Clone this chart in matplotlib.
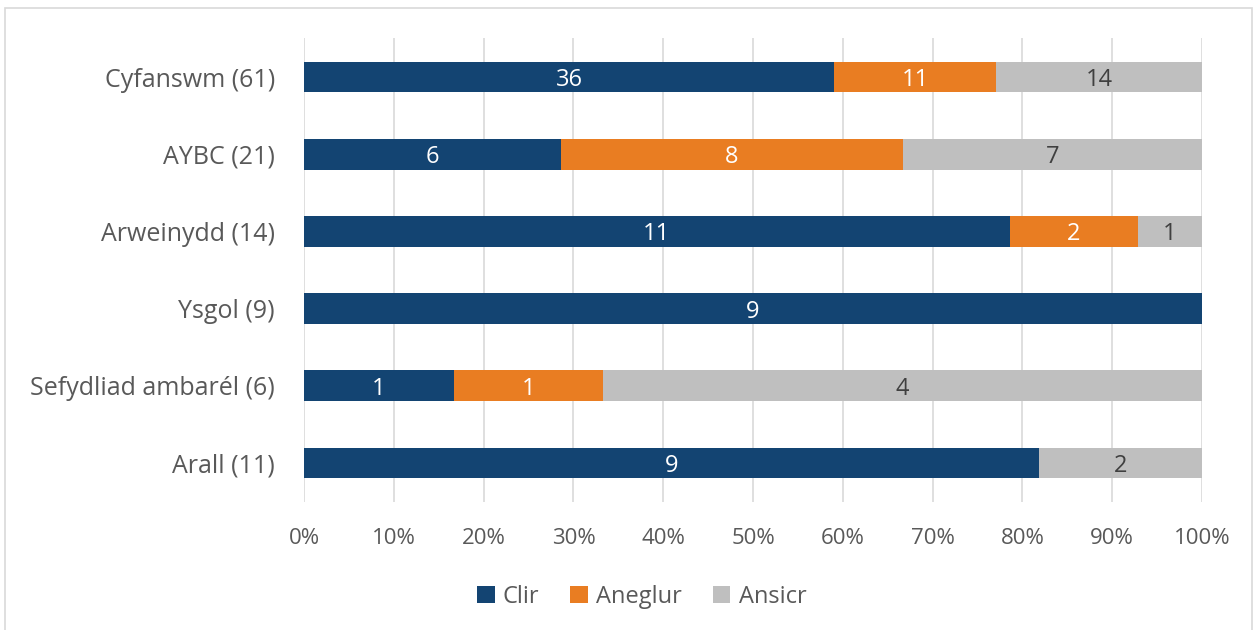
import numpy as np
import matplotlib.pyplot as plt
from matplotlib.patches import Rectangle

plt.rcParams['font.family'] = ['Open Sans', 'DejaVu Sans']

categories = ['Cyfanswm (61)', 'AYBC (21)', 'Arweinydd (14)', 'Ysgol (9)',
              'Sefydliad ambarél (6)', 'Arall (11)']
clir = [36, 6, 11, 9, 1, 9]
aneglur = [11, 8, 2, 0, 1, 0]
ansicr = [14, 7, 1, 0, 4, 2]

series = [('Clir', clir, '#134472', 'white'),
          ('Aneglur', aneglur, '#E97D22', 'white'),
          ('Ansicr', ansicr, '#BFBFBF', '#404040')]

totals = np.array(clir) + np.array(aneglur) + np.array(ansicr)
y = np.arange(len(categories))

fig = plt.figure(figsize=(12.58, 6.3), dpi=100)
ax = fig.add_axes([0.2417, 0.2038, 0.7138, 0.7352])

# light border round the chart area
fig.patches.append(Rectangle((5/1258, -0.1), 1247/1258, 1 - 8/630 + 0.1,
                             transform=fig.transFigure, fill=False,
                             edgecolor='#D9D9D9', linewidth=1.2))

left = np.zeros(len(categories))
for name, vals, col, tcol in series:
    vals = np.array(vals)
    frac = vals / totals
    ax.barh(y, frac, left=left, height=0.4, color=col, label=name, zorder=3)
    for i in range(len(vals)):
        if vals[i] > 0:
            ax.text(left[i] + frac[i] / 2, y[i], str(vals[i]), ha='center',
                    va='center_baseline', color=tcol, fontsize=17, zorder=4)
    left = left + frac

ax.set_xlim(0, 1)
ax.set_ylim(len(categories) - 0.5, -0.5)
ax.set_yticks(y)
ax.set_yticklabels(categories, fontsize=18, color='#595959')
ax.set_xticks(np.arange(0, 1.01, 0.1))
ax.set_xticklabels([f'{int(round(t*100))}%' for t in np.arange(0, 1.01, 0.1)],
                   fontsize=16, color='#595959')
ax.tick_params(axis='y', length=0, pad=21)
ax.tick_params(axis='x', length=0, pad=19)
ax.grid(axis='x', color='#D9D9D9', linewidth=1.2, zorder=0)
for s in ax.spines.values():
    s.set_visible(False)

fig.legend(loc='center', bbox_to_anchor=(0.51, 1 - 597/630), ncol=3, frameon=False,
           fontsize=17, handlelength=0.75, handleheight=0.75, handletextpad=0.35,
           columnspacing=1.3, labelcolor='#595959')

fig.savefig('out.png', dpi=100)
